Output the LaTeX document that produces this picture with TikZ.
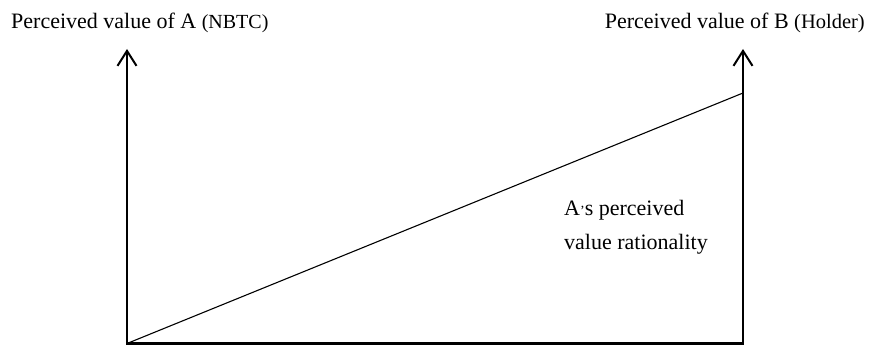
\documentclass[tikz,border=0pt]{standalone}
\usepackage{fontspec}
\setmainfont{Liberation Serif}
\usepackage{tikz}
\usetikzlibrary{arrows.meta}

\begin{document}
\begin{tikzpicture}[x=1pt,y=1pt,>={Straight Barb[length=15pt,width=19pt,line width=2pt]},font=\fontsize{22}{34}\selectfont,line cap=rect,
  axisline/.style={line width=2.6pt},
  paren/.style={font=\fontsize{20.5}{24}\selectfont}]
\useasboundingbox (0,0) rectangle (871,346);
\coordinate (O) at (127,2.5);
\coordinate (R) at (743,2.5);
\coordinate (Atop) at (127,297);
\coordinate (Btop) at (743,297);
\coordinate (Bend) at (743,253);
\draw[axisline] (O) -- (R);
\draw[->,axisline] (O) -- (Atop);
\draw[->,axisline] (R) -- (Btop);
\draw[line width=1.1pt] (O) -- (Bend);
\node[anchor=base west,inner sep=0] (labA) at (11,317) {Perceived value of A {\fontsize{20}{24}\selectfont(NBTC)}};
\node[anchor=base east,inner sep=0] (labB) at (865,317) {Perceived value of B {\fontsize{20.5}{24}\selectfont(Holder)}};
\node[anchor=base west,inner sep=0] (rat1) at (564,131) {A{\fontsize{14}{16}\selectfont'}s perceived};
\node[anchor=base west,inner sep=0] (rat2) at (564,97) {value rationality};
\end{tikzpicture}
\end{document}
